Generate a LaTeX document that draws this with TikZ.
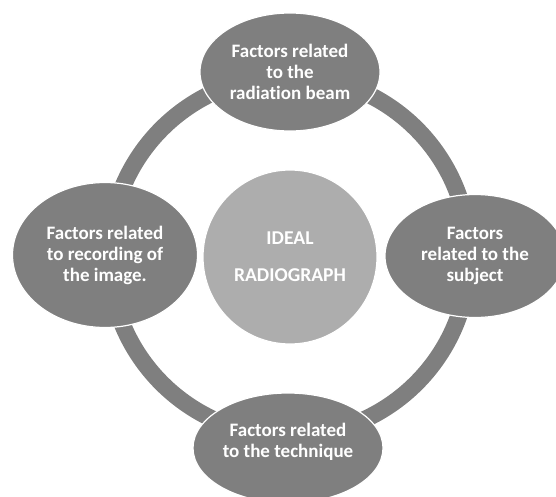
\documentclass[tikz,border=0pt]{standalone}
\usepackage{fontspec}
\setmainfont{Carlito}[Ligatures=NoCommon]
\usetikzlibrary{shapes.geometric}
\definecolor{darkfill}{RGB}{127,127,127}
\definecolor{lightfill}{RGB}{173,173,173}
\begin{document}
\begin{tikzpicture}[x=1pt,y=-1pt,
  factor/.style={ellipse, fill=darkfill, draw=white, line width=1.2pt, text=white,
    font=\bfseries\fontsize{19}{21}\selectfont, align=center, inner sep=0pt},
  plaintext/.style={text=white, font=\bfseries\fontsize{19}{21}\selectfont, align=center, inner sep=0pt},
  ringline/.style={draw=darkfill, line width=17pt},
  hubcircle/.style={circle, fill=lightfill, draw=white, line width=1.2pt, text=white,
    font=\bfseries\fontsize{19.6}{21}\selectfont, align=center, inner sep=0pt, minimum size=174pt}]
\useasboundingbox (0,0) rectangle (556,497);
\clip (0,0) rectangle (556,497);
\coordinate (hub) at (289,256);
\draw[ringline] (hub) circle[radius=180pt];
\node[factor, minimum width=180pt, minimum height=118pt] (beam) at (290,72)
  {Factors related\\to the\\radiation beam};
\node[factor, minimum width=185pt, minimum height=145pt] (recording) at (105,255)
  {Factors related\\to recording of\\the image.};
\node[factor, minimum width=180pt, minimum height=123pt] (subject) at (475,256)
  {Factors\\related to the\\subject};
\node[factor, minimum width=190pt, minimum height=110pt] (technique) at (288,448) {};
\node[plaintext] (techniquetext) at (288,442) {Factors related\\to the technique};
\node[hubcircle] (ideal) at (290,257) {IDEAL\\[16pt]RADIOGRAPH};
\end{tikzpicture}
\end{document}
